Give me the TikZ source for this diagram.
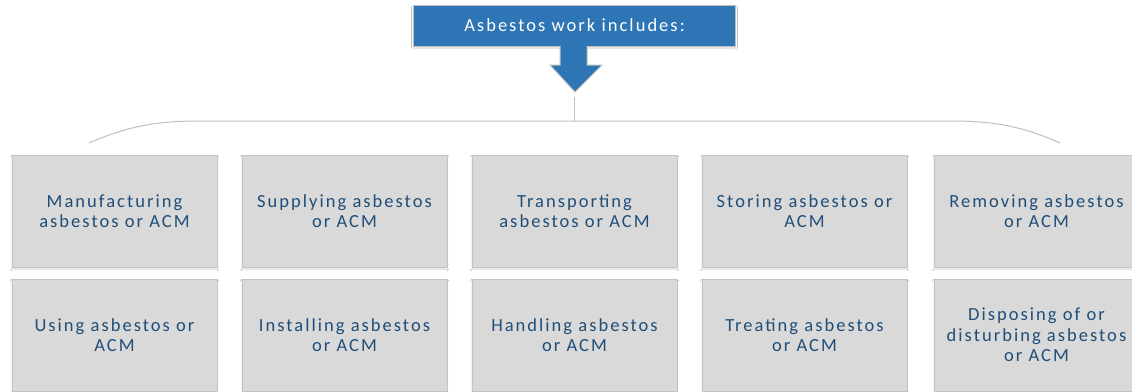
\documentclass[tikz,border=0pt]{standalone}
\usepackage{fontspec}
\setmainfont{Carlito}
\usetikzlibrary{shadows.blur}
\definecolor{boxfill}{HTML}{D9D9D9}
\definecolor{boxline}{HTML}{C3C3C3}
\definecolor{txtblue}{HTML}{1F4E79}
\definecolor{topblue}{HTML}{2E75B6}
\definecolor{linegray}{HTML}{BFBFBF}
\tikzset{
  item/.style={draw=boxline, line width=1pt, fill=boxfill, minimum width=205pt, minimum height=112pt,
    inner sep=0pt, align=center, text=txtblue,
    font=\fontsize{18.5}{20.5}\selectfont\addfontfeature{LetterSpace=11},
    blur shadow={shadow xshift=0pt, shadow yshift=-2pt, shadow blur steps=6, shadow opacity=15}},
  head/.style={draw=linegray, line width=1pt, fill=topblue, minimum width=322pt, minimum height=41pt,
    inner sep=0pt, text=white, font=\fontsize{18.5}{20}\selectfont\addfontfeature{LetterSpace=11},
    blur shadow={shadow xshift=0pt, shadow yshift=-2pt, shadow blur steps=6, shadow opacity=15}},
  bracket/.style={draw=linegray, line width=1pt}
}
\begin{document}
\begin{tikzpicture}[x=1pt,y=-1pt]
\useasboundingbox (0,0) rectangle (1132,391);
\fill[white] (0,0) rectangle (1132,391);
\node[head] (top) at (574.5,25.5) {Asbestos work includes:};
% block arrow
\filldraw[fill=topblue, draw=linegray, line width=1pt]
  (560,46) -- (560,65) -- (550,65) -- (575,92) -- (602,65) -- (587,65) -- (587,46);
\coordinate (stem) at (574,97);
\coordinate (br) at (574,121);
\draw[bracket] (stem) -- (br);
\draw[bracket] (89,143) .. controls (130,125) and (160,121) .. (200,121) -- (950,121)
  .. controls (990,121) and (1020,125) .. (1060,143);
% boxes
\node[item] (a1) at (114.5,211) {Manufacturing\\asbestos or ACM};
\node[item] (a2) at (344.5,211) {Supplying asbestos\\or ACM};
\node[item] (a3) at (574.5,211) {Transporting\\asbestos or ACM};
\node[item] (a4) at (804.5,211) {Storing asbestos or\\ACM};
\node[item] (a5) at (1036.5,211) {Removing asbestos\\or ACM};
\node[item] (b1) at (114.5,335) {Using asbestos or\\ACM};
\node[item] (b2) at (344.5,335) {Installing asbestos\\or ACM};
\node[item] (b3) at (574.5,335) {Handling asbestos\\or ACM};
\node[item] (b4) at (804.5,335) {Treating asbestos\\or ACM};
\node[item] (b5) at (1036.5,335) {Disposing of or\\disturbing asbestos\\or ACM};
\end{tikzpicture}
\end{document}
